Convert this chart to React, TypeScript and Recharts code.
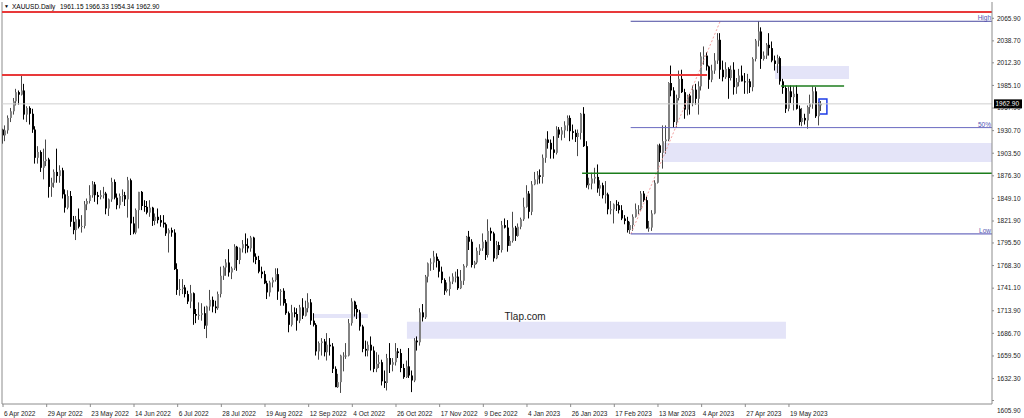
import React from 'react';
import {
  ComposedChart,
  Bar,
  XAxis,
  YAxis,
  ReferenceLine,
  ReferenceArea,
  ReferenceDot,
} from 'recharts';

// date labels under the axis, one every 16 daily bars
const TICK_BARS = [0, 16, 32, 48, 64, 80, 96, 112, 128, 144, 160, 176, 192, 208, 224, 240, 256, 272, 288];
const TICK_LABELS = [
  '6 Apr 2022', '29 Apr 2022', '23 May 2022', '14 Jun 2022', '6 Jul 2022', '28 Jul 2022',
  '19 Aug 2022', '12 Sep 2022', '4 Oct 2022', '26 Oct 2022', '17 Nov 2022', '9 Dec 2022',
  '4 Jan 2023', '26 Jan 2023', '17 Feb 2023', '13 Mar 2023', '4 Apr 2023', '27 Apr 2023', '19 May 2023',
];

const PRICE_TICKS = [
  2065.9, 2038.7, 2012.3, 1985.1, 1957.9, 1930.7, 1903.5, 1876.3, 1849.1,
  1821.9, 1795.5, 1768.3, 1741.1, 1713.9, 1686.7, 1659.5, 1632.3, 1605.9,
];

// XAUUSD daily candles, 6 Apr 2022 .. 6 Jun 2023
const OPEN = [
  1932, 1925, 1931, 1946, 1954, 1966, 1977, 1974, 1979, 1950,
  1958, 1951, 1932, 1898, 1905, 1886, 1894, 1896, 1863, 1868,
  1881, 1876, 1883, 1854, 1838, 1852, 1821, 1811, 1824, 1815,
  1816, 1842, 1846, 1853, 1866, 1853, 1851, 1853, 1855, 1837,
  1848, 1869, 1850, 1841, 1852, 1853, 1848, 1871, 1819, 1808,
  1835, 1857, 1840, 1839, 1832, 1838, 1822, 1827, 1823, 1820,
  1818, 1807, 1811, 1808, 1764, 1739, 1740, 1742, 1734, 1725,
  1735, 1710, 1708, 1709, 1711, 1696, 1719, 1727, 1719, 1717,
  1734, 1756, 1766, 1772, 1760, 1765, 1791, 1775, 1789, 1794,
  1792, 1789, 1802, 1779, 1775, 1761, 1758, 1747, 1736, 1748,
  1751, 1758, 1737, 1738, 1723, 1711, 1697, 1712, 1710, 1702,
  1718, 1708, 1717, 1724, 1702, 1697, 1665, 1675, 1677, 1664,
  1673, 1671, 1644, 1622, 1628, 1660, 1660, 1660, 1699, 1725,
  1716, 1712, 1695, 1668, 1666, 1673, 1666, 1644, 1650, 1652,
  1629, 1627, 1657, 1649, 1652, 1665, 1663, 1645, 1634, 1647,
  1636, 1630, 1678, 1676, 1712, 1706, 1755, 1771, 1772, 1779,
  1774, 1761, 1751, 1738, 1740, 1749, 1755, 1755, 1741, 1750,
  1768, 1803, 1797, 1769, 1772, 1786, 1789, 1797, 1781, 1810,
  1807, 1777, 1793, 1787, 1817, 1814, 1792, 1798, 1814, 1804,
  1815, 1824, 1839, 1855, 1833, 1866, 1872, 1877, 1875, 1898,
  1920, 1916, 1908, 1904, 1932, 1926, 1931, 1937, 1946, 1930,
  1928, 1923, 1928, 1951, 1912, 1865, 1867, 1873, 1875, 1861,
  1865, 1853, 1854, 1836, 1836, 1842, 1841, 1835, 1825, 1822,
  1811, 1817, 1827, 1836, 1836, 1855, 1847, 1813, 1814, 1831,
  1868, 1913, 1904, 1918, 1920, 1988, 1979, 1941, 1970, 1993,
  1977, 1956, 1973, 1964, 1980, 1969, 1984, 2020, 2021, 2008,
  1992, 2003, 2015, 2040, 2004, 1995, 2005, 1994, 2004, 1983,
  1989, 1997, 1990, 1989, 1990, 1983, 2017, 2039, 2050, 2017,
  2021, 2034, 2030, 2015, 2011, 2018, 1990, 1982, 1957, 1978,
  1971, 1975, 1957, 1941, 1946, 1943, 1959, 1963, 1978, 1948,
  1961.15,
];

const HIGH = [
  1933, 1937, 1949, 1958, 1970, 1981, 1979, 1998, 1987, 1960,
  1960, 1957, 1936, 1912, 1907, 1909, 1920, 1898, 1874, 1884,
  1909, 1889, 1886, 1860, 1859, 1858, 1828, 1828, 1837, 1829,
  1846, 1849, 1865, 1870, 1869, 1857, 1859, 1863, 1857, 1849,
  1874, 1872, 1855, 1855, 1860, 1857, 1875, 1873, 1827, 1837,
  1857, 1858, 1847, 1846, 1847, 1839, 1831, 1837, 1829, 1829,
  1820, 1813, 1814, 1812, 1771, 1752, 1752, 1745, 1738, 1745,
  1736, 1716, 1724, 1723, 1719, 1720, 1739, 1731, 1726, 1737,
  1767, 1768, 1776, 1788, 1767, 1794, 1792, 1790, 1799, 1807,
  1801, 1804, 1803, 1783, 1780, 1767, 1762, 1750, 1750, 1754,
  1765, 1765, 1740, 1741, 1728, 1713, 1721, 1718, 1717, 1721,
  1729, 1726, 1735, 1728, 1711, 1699, 1677, 1681, 1680, 1687,
  1681, 1675, 1647, 1638, 1661, 1664, 1675, 1704, 1729, 1726,
  1721, 1715, 1697, 1678, 1677, 1683, 1671, 1664, 1661, 1655,
  1642, 1662, 1675, 1657, 1675, 1669, 1668, 1650, 1654, 1669,
  1642, 1681, 1683, 1717, 1722, 1757, 1772, 1777, 1786, 1783,
  1776, 1767, 1753, 1748, 1755, 1759, 1761, 1764, 1763, 1770,
  1804, 1810, 1800, 1774, 1790, 1794, 1807, 1799, 1824, 1814,
  1809, 1798, 1797, 1822, 1825, 1823, 1804, 1833, 1816, 1819,
  1826, 1850, 1865, 1858, 1870, 1881, 1882, 1884, 1902, 1921,
  1930, 1920, 1924, 1936, 1935, 1935, 1942, 1949, 1949, 1938,
  1932, 1932, 1952, 1959, 1918, 1874, 1880, 1886, 1890, 1871,
  1868, 1870, 1856, 1846, 1843, 1847, 1845, 1841, 1829, 1827,
  1821, 1830, 1843, 1841, 1858, 1858, 1852, 1822, 1835, 1871,
  1914, 1915, 1937, 1937, 1989, 2009, 1983, 1974, 2003, 2004,
  1981, 1974, 1975, 1985, 1987, 1990, 2025, 2032, 2025, 2009,
  2010, 2024, 2048, 2048, 2015, 2013, 2007, 2009, 2013, 1994,
  2005, 2009, 2000, 1999, 1993, 2019, 2041, 2062.3, 2055, 2026,
  2036, 2048, 2038, 2021, 2022, 2020, 1993, 1985, 1984, 1985,
  1984, 1985, 1961, 1958, 1951, 1961, 1974, 1984, 1983, 1965,
  1966.33,
];

const LOW = [
  1915, 1918, 1927, 1941, 1950, 1961, 1962, 1973, 1944, 1941,
  1938, 1928, 1891, 1891, 1881, 1872, 1888, 1850, 1851, 1862,
  1868, 1868, 1849, 1832, 1836, 1815, 1806, 1799, 1813, 1808,
  1813, 1835, 1843, 1850, 1845, 1842, 1848, 1849, 1830, 1828,
  1845, 1848, 1836, 1837, 1845, 1840, 1826, 1805, 1806, 1806,
  1813, 1835, 1833, 1830, 1827, 1816, 1817, 1819, 1815, 1814,
  1804, 1784, 1803, 1763, 1733, 1732, 1734, 1730, 1722, 1717,
  1697, 1699, 1703, 1702, 1692, 1681, 1714, 1712, 1711, 1715,
  1730, 1751, 1756, 1755, 1752, 1763, 1762, 1770, 1784, 1783,
  1784, 1785, 1772, 1770, 1759, 1753, 1746, 1728, 1731, 1742,
  1749, 1727, 1720, 1720, 1709, 1688, 1695, 1706, 1690, 1699,
  1704, 1707, 1712, 1697, 1695, 1660, 1655, 1660, 1659, 1654,
  1660, 1639, 1622, 1621, 1615, 1641, 1656, 1659, 1696, 1707,
  1704, 1690, 1664, 1659, 1659, 1642, 1640, 1640, 1645, 1624,
  1621, 1618, 1639, 1641, 1648, 1657, 1640, 1632, 1633, 1633,
  1616, 1628, 1666, 1672, 1701, 1704, 1748, 1762, 1763, 1766,
  1754, 1747, 1733, 1736, 1732, 1746, 1748, 1739, 1740, 1745,
  1766, 1787, 1766, 1765, 1770, 1781, 1786, 1775, 1778, 1798,
  1773, 1776, 1781, 1784, 1813, 1785, 1792, 1796, 1798, 1803,
  1812, 1822, 1838, 1825, 1829, 1865, 1866, 1867, 1867, 1892,
  1909, 1897, 1897, 1902, 1922, 1919, 1922, 1930, 1918, 1920,
  1917, 1900, 1920, 1911, 1862, 1860, 1860, 1867, 1856, 1852,
  1849, 1843, 1830, 1830, 1819, 1834, 1831, 1823, 1818, 1808,
  1806.4, 1810, 1826, 1830, 1834, 1845, 1813, 1809, 1810, 1830,
  1867, 1893, 1885, 1903, 1918, 1972, 1934, 1934, 1967, 1976,
  1945, 1949, 1950, 1960, 1962, 1950, 1979, 2010, 2003, 1981,
  1989, 1999, 2011, 1993, 1990, 1993, 1969, 1991, 1974, 1975,
  1984, 1990, 1975, 1975, 1976, 1978, 2014, 2032, 2005, 2015,
  2017, 2021, 2013, 2003, 2000, 1986, 1975, 1952, 1954, 1964,
  1955, 1956, 1937, 1936, 1938, 1933, 1951, 1957, 1946, 1937,
  1954.34,
];

const CLOSE = [
  1925, 1931, 1946, 1954, 1966, 1977, 1974, 1979, 1950, 1958,
  1951, 1932, 1898, 1905, 1886, 1894, 1896, 1863, 1868, 1881,
  1876, 1883, 1854, 1838, 1852, 1821, 1811, 1824, 1815, 1816,
  1842, 1846, 1853, 1866, 1853, 1851, 1853, 1855, 1837, 1848,
  1869, 1850, 1841, 1852, 1853, 1848, 1871, 1819, 1808, 1835,
  1857, 1840, 1839, 1832, 1838, 1822, 1827, 1823, 1820, 1818,
  1807, 1811, 1808, 1764, 1739, 1740, 1742, 1734, 1725, 1735,
  1710, 1708, 1709, 1711, 1696, 1719, 1727, 1719, 1717, 1734,
  1756, 1766, 1772, 1760, 1765, 1791, 1775, 1789, 1794, 1792,
  1789, 1802, 1779, 1775, 1761, 1758, 1747, 1736, 1748, 1751,
  1758, 1737, 1738, 1723, 1711, 1697, 1712, 1710, 1702, 1718,
  1708, 1717, 1724, 1702, 1697, 1665, 1675, 1677, 1664, 1673,
  1671, 1644, 1622, 1628, 1660, 1660, 1660, 1699, 1725, 1716,
  1712, 1695, 1668, 1666, 1673, 1666, 1644, 1650, 1652, 1629,
  1627, 1657, 1649, 1652, 1665, 1663, 1645, 1634, 1647, 1636,
  1630, 1678, 1676, 1712, 1706, 1755, 1771, 1772, 1779, 1774,
  1761, 1751, 1738, 1740, 1749, 1755, 1755, 1741, 1750, 1768,
  1803, 1797, 1769, 1772, 1786, 1789, 1797, 1781, 1810, 1807,
  1777, 1793, 1787, 1817, 1814, 1792, 1798, 1814, 1804, 1815,
  1824, 1839, 1855, 1833, 1866, 1872, 1877, 1875, 1898, 1920,
  1916, 1908, 1904, 1932, 1926, 1931, 1937, 1946, 1930, 1928,
  1923, 1928, 1951, 1912, 1865, 1867, 1873, 1875, 1861, 1865,
  1853, 1854, 1836, 1836, 1842, 1841, 1835, 1825, 1822, 1811,
  1817, 1827, 1836, 1836, 1855, 1847, 1813, 1814, 1831, 1868,
  1913, 1904, 1918, 1920, 1988, 1979, 1941, 1970, 1993, 1977,
  1956, 1973, 1964, 1980, 1969, 1984, 2020, 2021, 2008, 1992,
  2003, 2015, 2040, 2004, 1995, 2005, 1994, 2004, 1983, 1989,
  1997, 1990, 1989, 1990, 1983, 2017, 2039, 2050, 2017, 2021,
  2034, 2030, 2015, 2011, 2018, 1990, 1982, 1957, 1978, 1971,
  1975, 1957, 1941, 1946, 1943, 1959, 1963, 1978, 1948, 1961,
  1962.9,
];

// drawn objects (bar index / price)
const LAST_PRICE = 1962.9;
const TOP_RED = 2073.5;
const RED_LEVEL = 1997.7;
const FIB_HIGH = 2062.3;
const FIB_MID = 1934.35;
const FIB_LOW = 1806.4;
const GREEN_LONG = 1879.4;
const GREEN_SHORT = 1984.4;

const X_MIN = -0.37;
const X_MAX = 362.4;

const data = CLOSE.map((c, i) => ({
  i,
  open: OPEN[i],
  high: HIGH[i],
  low: LOW[i],
  close: c,
  range: [LOW[i], HIGH[i]],
}));

const FONT = '"Liberation Sans", Arial, sans-serif';

const Candle = (props: any) => {
  const { x, y, width, height, payload } = props;
  if (x == null || y == null) return null;
  const { open, high, low, close } = payload;
  const top = Math.min(y, y + height);
  const span = Math.abs(height);
  const toY = (v: number) => (high === low ? top : top + ((high - v) / (high - low)) * span);
  const cx = Math.round(x + width / 2);
  const up = close >= open;
  const bTop = toY(Math.max(open, close));
  const bBot = toY(Math.min(open, close));
  return (
    <g>
      <line x1={cx - 0.5} x2={cx - 0.5} y1={top} y2={top + span} stroke={up ? '#4a4a4a' : '#000'} strokeWidth={1} />
      <rect x={cx - 1} y={bTop} width={2} height={Math.max(1, bBot - bTop)} fill={up ? '#828282' : '#000'} />
    </g>
  );
};

const DateTick = (props: any) => {
  const { x, y, payload } = props;
  const k = TICK_BARS.indexOf(payload.value);
  return (
    <text x={x + 1} y={y + 7} fontSize={6.5} fontFamily={FONT} fill="#222" textAnchor="start">
      {TICK_LABELS[k]}
    </text>
  );
};

const PriceTick = (props: any) => {
  const { x, y, payload } = props;
  const shift = payload.value === 1605.9 ? 10 : 0;
  return (
    <text x={x + 1} y={y + 2.3 + shift} fontSize={6.5} fontFamily={FONT} fill="#222" textAnchor="start">
      {payload.value.toFixed(2)}
    </text>
  );
};

const PriceTag = (props: any) => {
  const { viewBox } = props;
  if (!viewBox) return null;
  const x = viewBox.x + viewBox.width;
  const y = viewBox.y;
  return (
    <g>
      <rect x={x + 2} y={y - 4.5} width={28} height={9} fill="#000" />
      <text x={x + 3.5} y={y + 2.3} fontSize={6.5} fontFamily={FONT} fill="#fff">
        {LAST_PRICE.toFixed(2)}
      </text>
    </g>
  );
};

const fibLabel = (value: string) => ({
  value,
  position: 'insideBottomRight' as const,
  offset: 1,
  fill: '#5353b3',
  fontSize: 6.5,
  fontFamily: FONT,
});

const App: React.FC = () => {
  return (
    <div style={{ position: 'absolute', left: 0, top: 0, width: 1024, height: 418, background: '#fff' }}>
      <ComposedChart
        width={1024}
        height={418}
        data={data}
        margin={{ top: 2, right: 0, bottom: 0, left: 2 }}
        style={{ fontFamily: FONT }}
      >
        <XAxis
          type="number"
          dataKey="i"
          domain={[X_MIN, X_MAX]}
          allowDataOverflow
          ticks={TICK_BARS}
          interval={0}
          tick={<DateTick />}
          tickSize={3}
          height={14}
          stroke="#8c8c8c"
        />
        <YAxis
          type="number"
          orientation="right"
          domain={[1601.7, 2085.5]}
          allowDataOverflow
          ticks={PRICE_TICKS}
          interval={0}
          tick={<PriceTick />}
          tickSize={2}
          width={32}
          stroke="#8c8c8c"
        />

        <ReferenceArea x1={282.9} x2={310} y1={1992.8} y2={2008.5} fill="#e4e4f8" fillOpacity={1} stroke="none" />
        <ReferenceArea x1={242} x2={X_MAX} y1={1893} y2={1915.8} fill="#e4e4f8" fillOpacity={1} stroke="none" />
        <ReferenceArea x1={148} x2={286.9} y1={1680.1} y2={1700.6} fill="#e4e4f8" fillOpacity={1} stroke="none" />
        <ReferenceArea x1={113.6} x2={133.7} y1={1705.3} y2={1710.1} fill="#e4e4f8" fillOpacity={1} stroke="none" />

        <ReferenceLine x={X_MIN} stroke="#8c8c8c" />
        <ReferenceLine y={LAST_PRICE} stroke="#cfcfcf" label={<PriceTag />} />
        <ReferenceLine
          segment={[{ x: 230.1, y: FIB_LOW }, { x: 262.8, y: FIB_HIGH }]}
          stroke="#f2a0a0"
          strokeDasharray="2 2"
        />

        <Bar dataKey="range" barSize={2} shape={<Candle />} isAnimationActive={false} />

        <ReferenceLine y={TOP_RED} stroke="#e8393a" strokeWidth={2} />
        <ReferenceLine segment={[{ x: X_MIN, y: RED_LEVEL }, { x: 258, y: RED_LEVEL }]} stroke="#e8393a" strokeWidth={2} />
        <ReferenceLine segment={[{ x: 230, y: FIB_HIGH }, { x: X_MAX, y: FIB_HIGH }]} stroke="#4a4aa0" label={fibLabel('High')} />
        <ReferenceLine segment={[{ x: 230, y: FIB_MID }, { x: X_MAX, y: FIB_MID }]} stroke="#6a6ac0" label={fibLabel('50%')} />
        <ReferenceLine segment={[{ x: 230, y: FIB_LOW }, { x: X_MAX, y: FIB_LOW }]} stroke="#4a4ab0" label={fibLabel('Low')} />
        <ReferenceLine segment={[{ x: 212.2, y: GREEN_LONG }, { x: X_MAX, y: GREEN_LONG }]} stroke="#1c7d1c" strokeWidth={1.5} />
        <ReferenceLine segment={[{ x: 285.1, y: GREEN_SHORT }, { x: 308.2, y: GREEN_SHORT }]} stroke="#1c7d1c" strokeWidth={1.5} />

        <ReferenceArea x1={299} x2={301.9} y1={1950.7} y2={1968.8} fill="none" stroke="#1e3ce6" strokeWidth={1.5} />
        <ReferenceDot
          x={191.3}
          y={1707.6}
          r={1}
          fill="none"
          stroke="none"
          label={{ value: 'Tlap.com', position: 'center', fill: '#222', fontSize: 10, fontFamily: FONT }}
        />
      </ComposedChart>

      <div style={{ position: 'absolute', left: 0, top: 2, height: 9, width: 400, fontFamily: FONT, fontSize: 6.5, lineHeight: '9px', color: '#000' }}>
        <span style={{ position: 'absolute', left: 4, fontSize: 5 }}>▼</span>
        <span style={{ position: 'absolute', left: 12 }}>XAUUSD.Daily</span>
        <span style={{ position: 'absolute', left: 60, whiteSpace: 'pre' }}>1961.15 1966.33 1954.34 1962.90</span>
      </div>
    </div>
  );
};

export default App;
